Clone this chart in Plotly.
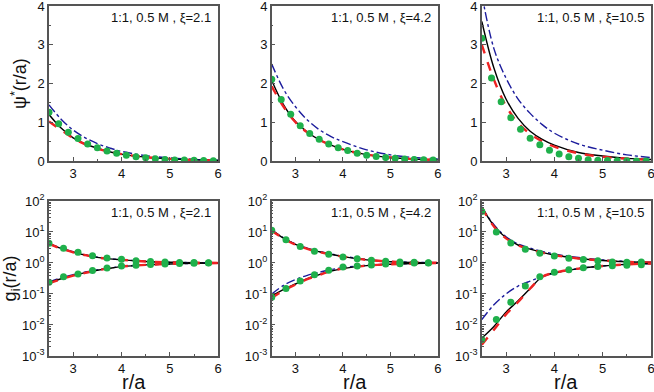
import plotly.graph_objects as go
from plotly.subplots import make_subplots

TITLES = ["1:1, 0.5 M , ξ=2.1", "1:1, 0.5 M , ξ=4.2", "1:1, 0.5 M , ξ=10.5"]

# top row: reduced potential psi*(r/a)
R_TOP = [2.5, 2.75, 3.0, 3.25, 3.5, 3.75, 4.0, 4.5, 5.0, 5.5, 6.0]
PSI_BLACK = [
    [1.2, 0.85, 0.6, 0.44, 0.33, 0.24, 0.18, 0.1, 0.055, 0.03, 0.015],
    [2.08, 1.45, 1.02, 0.75, 0.55, 0.41, 0.3, 0.165, 0.09, 0.05, 0.028],
    [3.6, 2.4, 1.6, 1.1, 0.77, 0.56, 0.41, 0.22, 0.13, 0.07, 0.04],
]
PSI_RED = [
    [1.02, 0.8, 0.59, 0.43, 0.32, 0.24, 0.18, 0.1, 0.055, 0.03, 0.015],
    [1.93, 1.4, 1.0, 0.74, 0.55, 0.41, 0.3, 0.165, 0.09, 0.05, 0.028],
    [3.0, 2.1, 1.42, 0.98, 0.7, 0.51, 0.37, 0.2, 0.11, 0.06, 0.03],
]
PSI_BLUE = [
    [1.45, 1.08, 0.8, 0.6, 0.45, 0.34, 0.25, 0.14, 0.08, 0.045, 0.025],
    [2.5, 1.85, 1.4, 1.06, 0.81, 0.63, 0.5, 0.29, 0.16, 0.09, 0.055],
    [4.3, 2.9, 2.14, 1.6, 1.23, 0.94, 0.72, 0.44, 0.28, 0.16, 0.09],
]
R_DOT_TOP = [2.5, 2.7, 2.9, 3.1, 3.3, 3.5, 3.7, 3.9, 4.1, 4.3, 4.5, 4.7, 4.9, 5.1, 5.3, 5.5, 5.7, 5.9]
PSI_DOTS = [
    [1.26, 0.96, 0.74, 0.58, 0.44, 0.34, 0.26, 0.2, 0.15, 0.11, 0.085, 0.06, 0.04, 0.03, 0.025, 0.02, 0.015, 0.01],
    [2.11, 1.59, 1.21, 0.91, 0.71, 0.56, 0.44, 0.34, 0.27, 0.2, 0.15, 0.12, 0.09, 0.07, 0.05, 0.04, 0.035, 0.025],
    [3.17, 2.14, 1.53, 1.12, 0.82, 0.59, 0.42, 0.28, 0.18, 0.11, 0.07, 0.035, 0.02, 0.012, 0.008, 0.006, 0.004, 0.003],
]

# bottom row: ion distribution functions g_i(r/a)
R_BOT = [2.5, 2.75, 3.0, 3.25, 3.5, 3.75, 4.0, 4.5, 5.0, 5.5, 6.0]
G_UP_BLACK = [
    [4.2, 2.95, 2.25, 1.8, 1.52, 1.36, 1.27, 1.12, 1.05, 1.02, 1.01],
    [11.5, 6.3, 4.0, 2.9, 2.3, 1.9, 1.6, 1.26, 1.1, 1.04, 1.02],
    [62, 16, 6.5, 3.8, 2.8, 2.2, 1.8, 1.4, 1.2, 1.09, 1.03],
]
G_UP_RED = [
    [4.1, 2.9, 2.2, 1.78, 1.5, 1.35, 1.26, 1.12, 1.05, 1.02, 1.01],
    [11.0, 6.1, 3.9, 2.85, 2.25, 1.88, 1.6, 1.26, 1.1, 1.04, 1.02],
    [60, 15, 6.2, 3.7, 2.7, 2.15, 1.78, 1.4, 1.2, 1.09, 1.03],
]
G_UP_BLUE = [
    [4.3, 3.0, 2.3, 1.82, 1.54, 1.37, 1.28, 1.13, 1.06, 1.02, 1.01],
    [11.8, 6.4, 4.1, 3.0, 2.35, 1.95, 1.65, 1.3, 1.12, 1.05, 1.02],
    [65, 17, 7.0, 4.1, 3.0, 2.35, 1.95, 1.5, 1.26, 1.12, 1.05],
]
G_LO_BLACK = [
    [0.23, 0.31, 0.4, 0.49, 0.58, 0.67, 0.76, 0.87, 0.93, 0.97, 0.99],
    [0.085, 0.14, 0.21, 0.31, 0.42, 0.55, 0.66, 0.82, 0.91, 0.96, 0.99],
    [0.0038, 0.009, 0.026, 0.06, 0.15, 0.36, 0.48, 0.66, 0.8, 0.9, 0.96],
]
G_LO_RED = [
    [0.22, 0.3, 0.39, 0.48, 0.58, 0.67, 0.76, 0.87, 0.93, 0.97, 0.99],
    [0.075, 0.13, 0.2, 0.3, 0.41, 0.55, 0.66, 0.82, 0.91, 0.96, 0.99],
    [0.0023, 0.007, 0.022, 0.055, 0.15, 0.36, 0.48, 0.66, 0.8, 0.9, 0.96],
]
G_LO_BLUE = [
    [0.24, 0.33, 0.42, 0.51, 0.6, 0.68, 0.77, 0.87, 0.93, 0.97, 0.99],
    [0.1, 0.19, 0.29, 0.4, 0.5, 0.61, 0.71, 0.84, 0.92, 0.96, 0.99],
    [0.015, 0.045, 0.1, 0.18, 0.26, 0.36, 0.47, 0.66, 0.8, 0.9, 0.96],
]
R_DOT_BOT = [2.5, 2.8, 3.1, 3.4, 3.7, 4.0, 4.3, 4.6, 4.9, 5.2, 5.5, 5.8]
G_UP_DOTS = [
    [4.3, 2.97, 2.2, 1.72, 1.45, 1.31, 1.18, 1.12, 1.08, 1.04, 1.03, 1.01],
    [11.3, 5.6, 3.4, 2.4, 1.9, 1.56, 1.38, 1.22, 1.13, 1.08, 1.05, 1.02],
    [46, 10, 4.4, 2.75, 2.07, 1.68, 1.42, 1.3, 1.18, 1.07, 1.05, 1.07],
]
G_LO_DOTS = [
    [0.24, 0.36, 0.44, 0.57, 0.69, 0.8, 0.85, 0.9, 0.93, 0.97, 0.98, 0.99],
    [0.078, 0.15, 0.26, 0.42, 0.58, 0.74, 0.8, 0.86, 0.93, 0.95, 1.0, 1.0],
    [0.0034, 0.015, 0.054, 0.18, 0.36, 0.5, 0.6, 0.7, 0.77, 0.81, 0.85, 0.87],
]

BLACK = "#000000"
RED = "#ee2222"
BLUE = "#1c1c9c"
GREEN = "#1fb04b"
AXIS = "#555555"
FONT = "Liberation Sans, Arial, sans-serif"

fig = make_subplots(rows=2, cols=3, horizontal_spacing=0.09, vertical_spacing=0.114)


def add_line(x, y, color, dash, width, row, col):
    fig.add_trace(
        go.Scatter(
            x=x, y=y, mode="lines", line=dict(color=color, dash=dash, width=width, shape="spline", smoothing=1.0),
            showlegend=False, hoverinfo="skip",
        ),
        row=row, col=col,
    )


def add_dots(x, y, row, col):
    fig.add_trace(
        go.Scatter(
            x=x, y=y, mode="markers", marker=dict(color=GREEN, size=7),
            showlegend=False, cliponaxis=True,
        ),
        row=row, col=col,
    )


for i in range(3):
    c = i + 1
    add_line(R_TOP, PSI_BLUE[i], BLUE, "dashdot", 1.4, 1, c)
    add_line(R_TOP, PSI_BLACK[i], BLACK, "solid", 1.4, 1, c)
    add_line(R_TOP, PSI_RED[i], RED, "dash", 2.4, 1, c)
    add_dots(R_DOT_TOP, PSI_DOTS[i], 1, c)

    add_line(R_BOT, G_UP_BLUE[i], BLUE, "dashdot", 1.4, 2, c)
    add_line(R_BOT, G_UP_BLACK[i], BLACK, "solid", 1.4, 2, c)
    add_line(R_BOT, G_UP_RED[i], RED, "dash", 2.4, 2, c)
    add_line(R_BOT, G_LO_BLUE[i], BLUE, "dashdot", 1.4, 2, c)
    add_line(R_BOT, G_LO_BLACK[i], BLACK, "solid", 1.4, 2, c)
    add_line(R_BOT, G_LO_RED[i], RED, "dash", 2.4, 2, c)
    add_dots(R_DOT_BOT, G_UP_DOTS[i], 2, c)
    add_dots(R_DOT_BOT, G_LO_DOTS[i], 2, c)

    for row in (1, 2):
        fig.add_annotation(
            text=TITLES[i], xref="x domain", yref="y domain", x=0.97, y=0.985,
            xanchor="right", yanchor="top", showarrow=False,
            font=dict(size=13, color="#111111", family=FONT), row=row, col=c,
        )

common_axis = dict(
    showline=True, mirror=True, linecolor=AXIS, linewidth=1.5, ticks="inside", ticklen=4,
    tickcolor=AXIS, showgrid=False, zeroline=False, automargin=False, ticklabeloverflow="allow",
    tickfont=dict(size=13, color="#111111", family=FONT),
)

for row in (1, 2):
    for c in (1, 2, 3):
        fig.update_xaxes(
            range=[2.5, 6], tickvals=[3, 4, 5, 6],
            minor=dict(ticks="inside", ticklen=2, tickcolor=AXIS, tickvals=[2.5, 3.5, 4.5, 5.5]),
            **common_axis, row=row, col=c,
        )

for c in (1, 2, 3):
    fig.update_yaxes(
        range=[0, 4], tickvals=[0, 1, 2, 3, 4],
        minor=dict(ticks="inside", ticklen=2, tickcolor=AXIS, dtick=0.5),
        **common_axis, row=1, col=c,
    )
    fig.update_yaxes(
        type="log", range=[-3, 2], tickvals=[0.001, 0.01, 0.1, 1, 10, 100],
        ticktext=["10<sup>-3</sup>", "10<sup>-2</sup>", "10<sup>-1</sup>", "10<sup>0</sup>", "10<sup>1</sup>", "10<sup>2</sup>"],
        minor=dict(ticks="inside", ticklen=2, tickcolor=AXIS,
                   tickvals=[m * 10 ** e for e in (-3, -2, -1, 0, 1) for m in range(2, 10)]),
        **common_axis, row=2, col=c,
    )

fig.update_yaxes(title_text="ψ<sup>*</sup>(r/a)", title_font=dict(size=18, family=FONT, color="#111111"),
                 title_standoff=6, row=1, col=1)
fig.update_yaxes(title_text="g<sub>i</sub>(r/a)", title_font=dict(size=18, family=FONT, color="#111111"),
                 title_standoff=4, row=2, col=1)

# panel domains matched to the reference
xd = [[0.0, 0.281], [0.370, 0.646], [0.719, 1.0]]
for c in range(3):
    fig.update_xaxes(domain=xd[c], row=1, col=c + 1)
    fig.update_xaxes(domain=xd[c], row=2, col=c + 1)
    fig.update_yaxes(domain=[0.557, 1.0], row=1, col=c + 1)
    fig.update_yaxes(domain=[0.0, 0.443], row=2, col=c + 1)
    # x-axis title for the bottom row, pinned to the bottom edge
    fig.add_annotation(
        text="r/a", xref="paper", yref="paper", x=(xd[c][0] + xd[c][1]) / 2, y=-0.112,
        xanchor="center", yanchor="bottom", showarrow=False,
        font=dict(size=20, color="#111111", family=FONT),
    )

fig.update_layout(
    width=654, height=392,
    margin=dict(l=49, r=3, t=6, b=36),
    plot_bgcolor="white", paper_bgcolor="white",
    font=dict(family=FONT, color="#111111"),
)

fig.write_html("out.html", config={"displayModeBar": False},
               post_script="document.body.style.margin='0';")
